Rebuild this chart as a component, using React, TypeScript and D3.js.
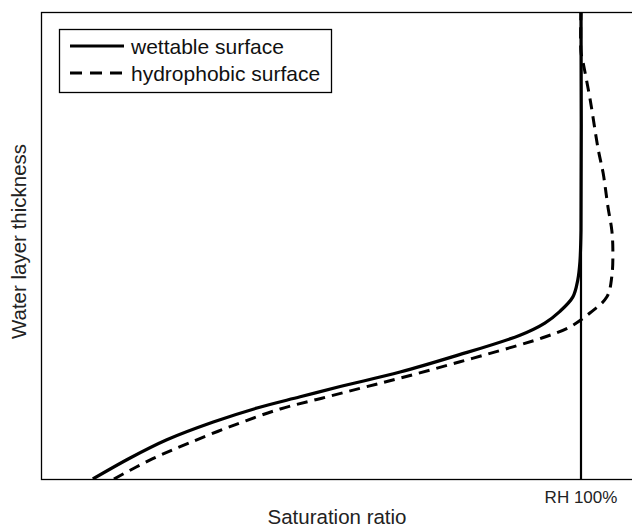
import * as d3 from 'd3';

// saturation ratio (RH 100% = 1) and relative water layer thickness
const wettableX = [0.096, 0.165, 0.233, 0.319, 0.4, 0.48, 0.554, 0.665, 0.763, 0.887, 0.933, 0.961, 0.985, 0.994, 0.998, 1.0, 1.0];
const wettableY = [0, 0.045, 0.084, 0.122, 0.152, 0.176, 0.198, 0.229, 0.262, 0.308, 0.334, 0.359, 0.39, 0.426, 0.465, 0.533, 1.0];

const hydroX = [0.135, 0.206, 0.274, 0.359, 0.443, 0.52, 0.594, 0.665, 0.776, 0.874, 0.933, 0.98, 1.017, 1.048, 1.057, 1.059, 1.057, 1.05, 1.041, 1.032, 1.017, 1.004, 1.0, 1.0];
const hydroY = [0, 0.043, 0.077, 0.116, 0.15, 0.173, 0.195, 0.216, 0.251, 0.283, 0.304, 0.326, 0.356, 0.39, 0.433, 0.49, 0.533, 0.582, 0.655, 0.705, 0.812, 0.891, 0.914, 1.0];

const rhTick = [1.0];
const rhLabels = ['RH 100%'];
const seriesNames = ['wettable surface', 'hydrophobic surface'];

const W = 632;
const H = 528;
const margin = { top: 12, left: 41, bottom: 49 };
const FONT = '"Liberation Sans", Arial, Helvetica, sans-serif';

export default function App() {
  const x = d3.scaleLinear().domain([0, 1.1]).range([margin.left, margin.left + 1.1 * 540]);
  const y = d3.scaleLinear().domain([0, 1]).range([H - margin.bottom, margin.top]);

  const line = d3.line<[number, number]>()
    .x((d) => x(d[0]))
    .y((d) => y(d[1]))
    .curve(d3.curveCatmullRom.alpha(0.5));

  const wet = wettableX.map((v, i) => [v, wettableY[i]] as [number, number]);
  const hyd = hydroX.map((v, i) => [v, hydroY[i]] as [number, number]);

  const plotBottom = y(0);
  const plotTop = y(1);

  return (
    <svg width={W} height={H} style={{ position: 'absolute', left: 0, top: 0, background: '#fff' }} fontFamily={FONT}>
      <defs>
        <clipPath id="plot-clip">
          <rect x={margin.left} y={plotTop} width={W} height={plotBottom - plotTop} />
        </clipPath>
      </defs>

      {/* frame */}
      <rect x={margin.left + 0.5} y={plotTop + 0.5} width={W} height={plotBottom - plotTop} fill="none" stroke="#000" strokeWidth={1.3} />

      {/* RH 100% reference */}
      {rhTick.map((t) => (
        <line key={t} x1={x(t)} x2={x(t)} y1={plotTop} y2={plotBottom} stroke="#000" strokeWidth={2.2} />
      ))}

      <g clipPath="url(#plot-clip)">
        <path d={line(hyd) ?? ''} fill="none" stroke="#000" strokeWidth={3} strokeDasharray="11,7" />
        <path d={line(wet) ?? ''} fill="none" stroke="#000" strokeWidth={3.2} />
      </g>

      {/* tick label */}
      {rhTick.map((t, i) => (
        <text key={t} x={x(t)} y={plotBottom + 24} textAnchor="middle" fontSize={17} fill="#222">{rhLabels[i]}</text>
      ))}

      {/* axis titles */}
      <text x={337} y={524} textAnchor="middle" fontSize={20.5} fill="#222">Saturation ratio</text>
      <text transform={`translate(26,${(plotTop + plotBottom) / 2 - 4}) rotate(-90)`} textAnchor="middle" fontSize={20.5} fill="#222">Water layer thickness</text>

      {/* legend */}
      <g>
        <rect x={59.5} y={29.5} width={272} height={63} fill="#fff" stroke="#000" strokeWidth={1.3} />
        {seriesNames.map((name, i) => (
          <g key={name} transform={`translate(0,${46 + i * 27})`}>
            <line x1={70} x2={124} y1={0} y2={0} stroke="#000" strokeWidth={3}
              strokeDasharray={i === 1 ? '12,8' : undefined} />
            <text x={131} y={7.5} fontSize={21} fill="#111">{name}</text>
          </g>
        ))}
      </g>
    </svg>
  );
}
